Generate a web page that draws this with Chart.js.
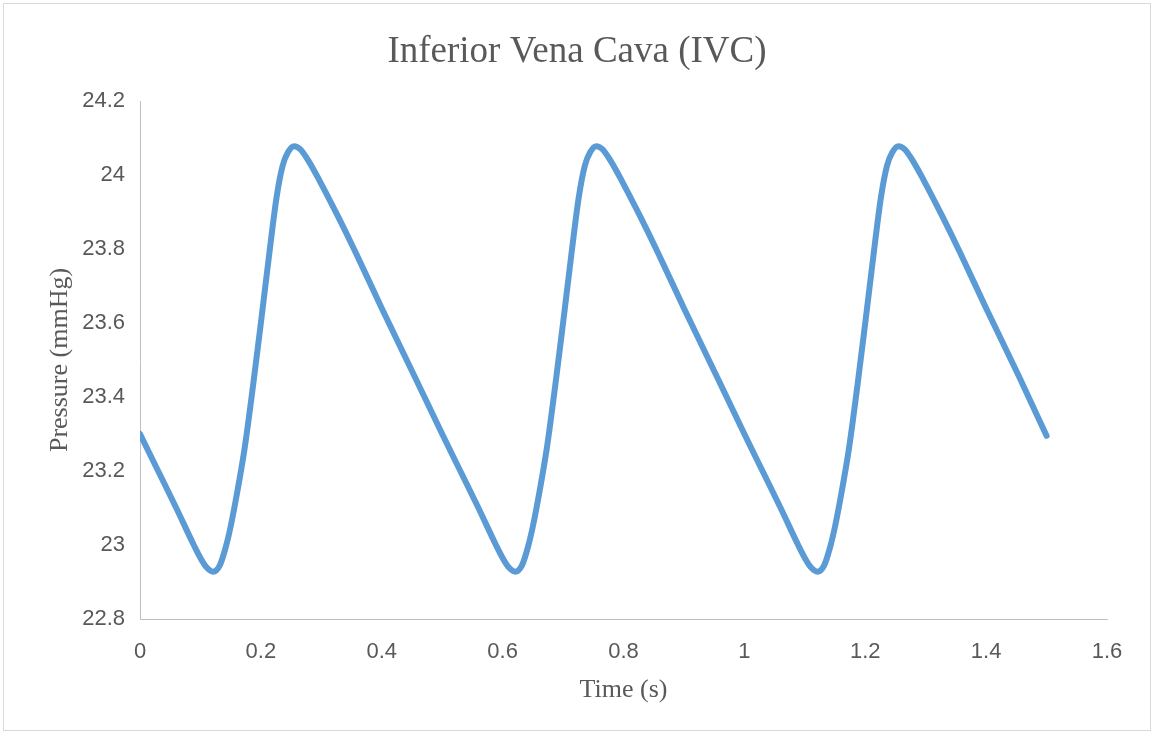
<!DOCTYPE html>
<html>
<head>
<meta charset="utf-8">
<script src="https://cdn.jsdelivr.net/npm/chart.js@4.4.1/dist/chart.umd.min.js"></script>
<style>
  html, body { margin: 0; padding: 0; background: #ffffff; }
  #wrap { width: 1152px; height: 735px; }
</style>
</head>
<body>
<div id="wrap"><canvas id="ivc" width="1152" height="735"></canvas></div>
<script>
// IVC pressure trace, three cardiac cycles
const time = [
  0, 0.03, 0.06, 0.089, 0.1, 0.11, 0.121, 0.132, 0.142, 0.15, 0.16, 0.173, 0.187,
  0.2, 0.213, 0.226, 0.236, 0.245, 0.255, 0.265, 0.28, 0.297, 0.327, 0.357, 0.4, 0.456,
  0.5, 0.53, 0.56, 0.589, 0.6, 0.61, 0.621, 0.632, 0.642, 0.65, 0.66, 0.673, 0.687,
  0.7, 0.713, 0.726, 0.736, 0.745, 0.755, 0.765, 0.78, 0.797, 0.827, 0.857, 0.9, 0.956,
  1.0, 1.03, 1.06, 1.089, 1.1, 1.11, 1.121, 1.132, 1.142, 1.15, 1.16, 1.173, 1.187,
  1.2, 1.213, 1.226, 1.236, 1.245, 1.255, 1.265, 1.28, 1.297, 1.327, 1.357, 1.4, 1.456,
  1.5
];
const pressure = [
  23.3, 23.2, 23.1, 23.0, 22.965, 22.94, 22.928, 22.945, 22.995, 23.05, 23.135, 23.26, 23.43,
  23.6, 23.775, 23.94, 24.025, 24.062, 24.078, 24.07, 24.035, 23.985, 23.89, 23.79, 23.64, 23.45,
  23.3, 23.2, 23.1, 23.0, 22.965, 22.94, 22.928, 22.945, 22.995, 23.05, 23.135, 23.26, 23.43,
  23.6, 23.775, 23.94, 24.025, 24.062, 24.078, 24.07, 24.035, 23.985, 23.89, 23.79, 23.64, 23.45,
  23.3, 23.2, 23.1, 23.0, 22.965, 22.94, 22.928, 22.945, 22.995, 23.05, 23.135, 23.26, 23.43,
  23.6, 23.775, 23.94, 24.025, 24.062, 24.078, 24.07, 24.035, 23.985, 23.89, 23.79, 23.64, 23.45,
  23.295
];

const xTicks = [0, 0.2, 0.4, 0.6, 0.8, 1, 1.2, 1.4, 1.6];
const xTickLabels = ['0', '0.2', '0.4', '0.6', '0.8', '1', '1.2', '1.4', '1.6'];
const yTicks = [22.8, 23, 23.2, 23.4, 23.6, 23.8, 24, 24.2];
const yTickLabels = ['22.8', '23', '23.2', '23.4', '23.6', '23.8', '24', '24.2'];

const chartTitle = 'Inferior Vena Cava (IVC)';
const xTitle = 'Time (s)';
const yTitle = 'Pressure (mmHg)';

const points = time.map((t, i) => ({ x: t, y: pressure[i] }));

const TEXT = '#595959';
const AXIS = '#BFBFBF';

// white page, thin frame and the centred heading
const frame = {
  id: 'frame',
  beforeDraw(chart) {
    const ctx = chart.ctx;
    ctx.save();
    ctx.fillStyle = '#ffffff';
    ctx.fillRect(0, 0, chart.width, chart.height);
    ctx.strokeStyle = '#D9D9D9';
    ctx.lineWidth = 1;
    ctx.strokeRect(3.5, 3.5, 1147, 727);
    ctx.restore();
  },
  afterDraw(chart) {
    const ctx = chart.ctx;
    ctx.save();
    ctx.font = '37px "Liberation Serif", "Times New Roman", serif';
    ctx.fillStyle = TEXT;
    ctx.textAlign = 'center';
    ctx.textBaseline = 'alphabetic';
    ctx.fillText(chartTitle, 577, 62);
    ctx.restore();
  }
};

new Chart(document.getElementById('ivc'), {
  type: 'scatter',
  data: {
    datasets: [{
      data: points,
      showLine: true,
      borderColor: '#5B9BD5',
      backgroundColor: '#5B9BD5',
      borderWidth: 6,
      pointRadius: 0,
      pointHoverRadius: 0,
      cubicInterpolationMode: 'monotone',
      borderCapStyle: 'round',
      borderJoinStyle: 'round'
    }]
  },
  options: {
    responsive: false,
    animation: false,
    events: [],
    layout: { padding: { left: 0, right: 45, top: 101, bottom: 0 } },
    plugins: {
      legend: { display: false },
      title: { display: false },
      tooltip: { enabled: false }
    },
    scales: {
      x: {
        type: 'linear',
        min: 0,
        max: 1.6,
        afterBuildTicks(scale) { scale.ticks = xTicks.map(v => ({ value: v })); },
        afterFit(scale) { scale.height = 116; },
        grid: { display: false, drawTicks: false },
        border: { display: true, color: AXIS, width: 1 },
        ticks: {
          autoSkip: false,
          maxRotation: 0,
          padding: 20,
          color: TEXT,
          font: { family: '"Liberation Sans", Arial, sans-serif', size: 22 },
          callback: (v, i) => xTickLabels[i]
        },
        title: {
          display: true,
          text: xTitle,
          color: TEXT,
          font: { family: '"Liberation Serif", "Times New Roman", serif', size: 26 },
          padding: { top: 0, bottom: 29 }
        }
      },
      y: {
        type: 'linear',
        min: 22.8,
        max: 24.2,
        afterBuildTicks(scale) { scale.ticks = yTicks.map(v => ({ value: v })); },
        afterFit(scale) { scale.width = 140; },
        grid: { display: false, drawTicks: false },
        border: { display: true, color: AXIS, width: 1 },
        ticks: {
          autoSkip: false,
          padding: 15,
          color: TEXT,
          font: { family: '"Liberation Sans", Arial, sans-serif', size: 22 },
          callback: (v, i) => yTickLabels[i]
        },
        title: {
          display: true,
          text: yTitle,
          color: TEXT,
          font: { family: '"Liberation Serif", "Times New Roman", serif', size: 26 },
          padding: { top: 45, bottom: 0 }
        }
      }
    }
  },
  plugins: [frame]
});
</script>
</body>
</html>
